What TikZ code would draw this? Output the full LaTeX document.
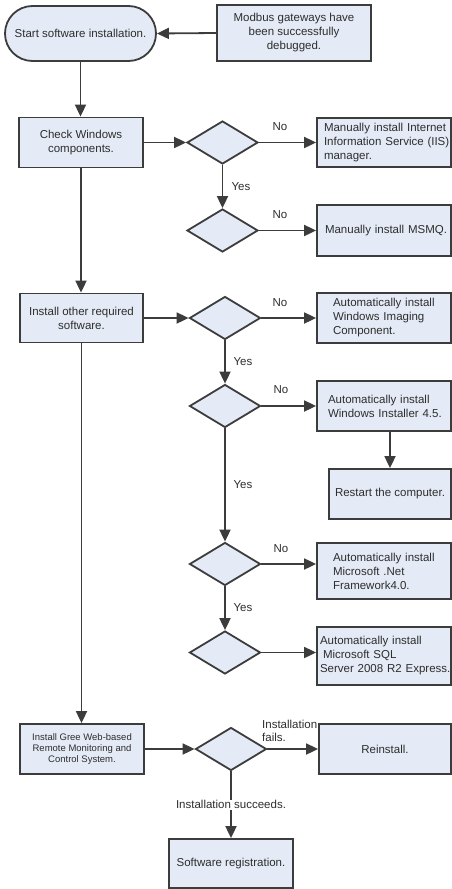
\documentclass[tikz,border=0pt]{standalone}
\usepackage{fontspec}
\setmainfont{Liberation Sans}
\usetikzlibrary{arrows.meta,shapes.geometric,calc}
\definecolor{boxfill}{RGB}{229,235,246}
\definecolor{edge}{RGB}{60,60,60}
\definecolor{txt}{RGB}{45,45,45}
\begin{document}
\begin{tikzpicture}[x=1pt,y=-1pt,
  base/.style={draw=edge, fill=boxfill, line width=1.8pt, text=txt, font=\fontsize{11.5}{14}\selectfont},
  box/.style={base, rectangle, inner sep=0pt, align=center},
  lbox/.style={box, align=left},
  dec/.style={base, diamond, inner sep=0pt, minimum width=71pt, minimum height=43pt},
  arr/.style={draw=edge, line width=1.8pt, -{Triangle[length=12pt,width=11pt]}},
  lab/.style={text=txt, font=\fontsize{11.5}{14}\selectfont, inner sep=0pt},
]
\useasboundingbox (0,0) rectangle (452,889);

% boxes
\node[box, rounded corners=27.5pt, minimum width=151pt, minimum height=55pt] (start) at (80.5,33.5) {Start software installation.};
\node[box, minimum width=154pt, minimum height=56pt] (modbus) at (294,33) {Modbus gateways have\\been successfully\\debugged.};
\node[box, minimum width=124pt, minimum height=50pt] (check) at (81,142.5) {Check Windows\\components.};
\node[lbox, text width=120pt, minimum width=134pt, minimum height=49pt] (iis) at (384,142.5) {\mbox{Manually install Internet}\\\mbox{Information Service (IIS)}\\\mbox{manager.}};
\node[lbox, text width=118pt, minimum width=134pt, minimum height=51pt] (msmq) at (384,230.5) {\mbox{Manually install MSMQ.}};
\node[box, minimum width=123pt, minimum height=49pt] (other) at (81.5,318) {Install other required\\software.};
\node[lbox, text width=102pt, minimum width=134pt, minimum height=50pt] (wic) at (384,318) {\mbox{Automatically install}\\\mbox{Windows Imaging}\\\mbox{Component.}};
\node[lbox, text width=112pt, minimum width=134pt, minimum height=50pt] (wi) at (384,406) {\mbox{Automatically install}\\\mbox{Windows Installer 4.5.}};
\node[box, minimum width=122pt, minimum height=50pt] (restart) at (390,494) {Restart the computer.};
\node[lbox, text width=102pt, minimum width=134pt, minimum height=56pt] (net) at (384,571) {\mbox{Automatically install}\\\mbox{Microsoft .Net}\\\mbox{Framework4.0.}};
\node[lbox, text width=128pt, minimum width=134pt, minimum height=58pt] (sql) at (384,656) {\mbox{Automatically install}\\\mbox{\hspace{3pt}Microsoft SQL}\\\mbox{Server 2008 R2 Express.}};
\node[box, minimum width=124pt, minimum height=50pt, font=\fontsize{9.5}{11.4}\selectfont] (gree) at (82,749) {Install Gree Web-based\\Remote Monitoring and\\Control System.};
\node[box, minimum width=132pt, minimum height=50pt] (reinstall) at (385,749) {Reinstall.};
\node[box, minimum width=124pt, minimum height=49pt] (reg) at (231,863.5) {Software registration.};

% decisions
\node[dec] (d1) at (222.5,142.5) {};
\node[dec] (d2) at (222.5,230.5) {};
\node[dec] (d3) at (225,318) {};
\node[dec] (d4) at (225,406) {};
\node[dec] (d5) at (225,564) {};
\node[dec] (d6) at (225,652.5) {};
\node[dec] (d7) at (231,749) {};

% connectors
\draw[arr] (modbus.west) -- (start.east);
\draw[arr] (start.south) -- (start.south |- check.north);
\draw[arr] (check.east) -- (d1.west);
\draw[arr] (d1.east) -- (iis.west);
\draw[arr] (d1.south) -- (d2.north);
\draw[arr] (d2.east) -- (msmq.west);
\draw[arr] (check.south) -- (check.south |- other.north);
\draw[arr] (other.east) -- (d3.west);
\draw[arr] (d3.east) -- (wic.west);
\draw[arr] (d3.south) -- (d4.north);
\draw[arr] (d4.east) -- (wi.west);
\draw[arr] (restart.north |- wi.south) -- (restart.north);
\draw[arr] (d4.south) -- (d5.north);
\draw[arr] (d5.east) -- (d5.east -| net.west);
\draw[arr] (d5.south) -- (d6.north);
\draw[arr] (d6.east) -- (d6.east -| sql.west);
\draw[arr] (other.south) -- (other.south |- gree.north);
\draw[arr] (gree.east) -- (d7.west);
\draw[arr] (d7.east) -- (reinstall.west);
\draw[arr] (d7.south) -- node[lab, fill=white, inner sep=1pt] (succ) {Installation succeeds.} (reg.north);

% labels
\node[lab] (no1) at (280,127) {No};
\node[lab] (no2) at (280,215) {No};
\node[lab] (no3) at (280,303) {No};
\node[lab] (no4) at (281,390) {No};
\node[lab] (no5) at (281,549) {No};
\node[lab] (yes1) at (241,187) {Yes};
\node[lab] (yes2) at (243,362) {Yes};
\node[lab] (yes3) at (243,485) {Yes};
\node[lab] (yes4) at (243,608) {Yes};
\node[lab, anchor=west, align=left, font=\fontsize{11.5}{12.5}\selectfont] (fails) at (262,731) {Installation\\fails.};
\end{tikzpicture}
\end{document}
